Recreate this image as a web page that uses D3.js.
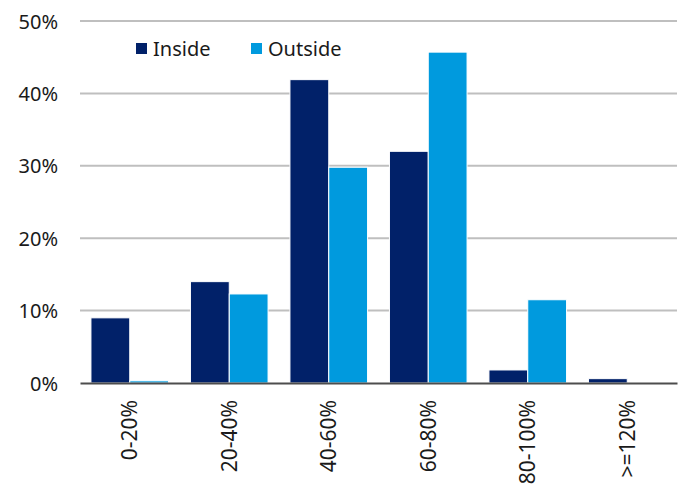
<!DOCTYPE html>
<html>
<head>
<meta charset="utf-8">
<script src="https://cdn.jsdelivr.net/npm/d3@7"></script>
<style>
  html, body { margin: 0; padding: 0; background: #fff; }
  svg text { font-family: "Noto Sans", "Open Sans", sans-serif; fill: #1a1a1a; }
</style>
</head>
<body>
<svg id="chart" width="679" height="485"></svg>
<script>
// Share of observations by bucket, inside vs outside
const categories = ["0-20%", "20-40%", "40-60%", "60-80%", "80-100%", ">=120%"];
const insideValues = [9.0, 14.0, 41.9, 32.0, 1.8, 0.6];
const outsideValues = [0.3, 12.3, 29.8, 45.7, 11.5, 0.0];
const seriesNames = ["Inside", "Outside"];
const yTicks = [0, 10, 20, 30, 40, 50];

const colors = { Inside: "#012169", Outside: "#009ADE" };

const svg = d3.select("#chart");
const margin = { top: 21, right: 2, bottom: 102, left: 80 };
const width = 679 - margin.left - margin.right;
const height = 485 - margin.top - margin.bottom;

const g = svg.append("g").attr("transform", `translate(${margin.left},${margin.top})`);

const x = d3.scaleBand().domain(categories).range([0, width]).paddingInner(0.22).paddingOuter(0.11);
const xs = d3.scaleBand().domain(seriesNames).range([0, x.bandwidth()]).padding(0);
const y = d3.scaleLinear().domain([0, 50]).range([height, 0]);

// Gridlines
g.selectAll(".grid").data(yTicks.filter(t => t > 0)).enter().append("line")
  .attr("x1", 0).attr("x2", width)
  .attr("y1", d => y(d)).attr("y2", d => y(d))
  .attr("stroke", "#BFBFBF").attr("stroke-width", 2);

// Y axis labels
const yAxis = d3.axisLeft(y).tickValues(yTicks).tickFormat(d => d + "%").tickSize(0).tickPadding(22);
const ya = g.append("g").call(yAxis);
ya.select(".domain").remove();
ya.selectAll("text").style("font-size", "20px").attr("dy", "0.35em")
  .style("font-family", "'Noto Sans', sans-serif").attr("fill", "#1a1a1a");

// Bars
const data = categories.map((c, i) => ({ cat: c, values: [
  { key: "Inside", value: insideValues[i] },
  { key: "Outside", value: outsideValues[i] }
]}));

const groups = g.selectAll(".grp").data(data).enter().append("g")
  .attr("transform", d => `translate(${x(d.cat)},0)`);

groups.selectAll("rect").data(d => d.values.filter(v => v.value > 0)).enter().append("rect")
  .attr("x", d => xs(d.key))
  .attr("width", xs.bandwidth())
  .attr("y", d => y(d.value))
  .attr("height", d => y(0) - y(d.value))
  .attr("fill", d => colors[d.key])
  .attr("stroke", "#ffffff").attr("stroke-width", 1);

// Baseline / x axis
const xAxis = d3.axisBottom(x).tickSize(0).tickPadding(0);
const xa = g.append("g").attr("transform", `translate(0,${height})`).call(xAxis);
xa.select(".domain").attr("stroke", "#4d4d4d").attr("stroke-width", 2);
xa.selectAll("text")
  .style("font-size", "21px")
  .style("font-family", "'Noto Sans', sans-serif")
  .attr("fill", "#1a1a1a")
  .attr("text-anchor", "end")
  .attr("transform", "rotate(-90)")
  .attr("x", -17).attr("y", 0).attr("dy", "0.35em");

// Legend
const legend = svg.append("g").attr("transform", "translate(136,49)");
const legendX = [0, 115];
seriesNames.forEach((s, i) => {
  const lg = legend.append("g").attr("transform", `translate(${legendX[i]},0)`);
  lg.append("rect").attr("x", 0).attr("y", -6).attr("width", 11).attr("height", 11).attr("fill", colors[s]);
  lg.append("text").attr("x", 17).attr("y", 0).attr("dy", "0.35em")
    .style("font-size", "20px").text(s);
});
</script>
</body>
</html>
